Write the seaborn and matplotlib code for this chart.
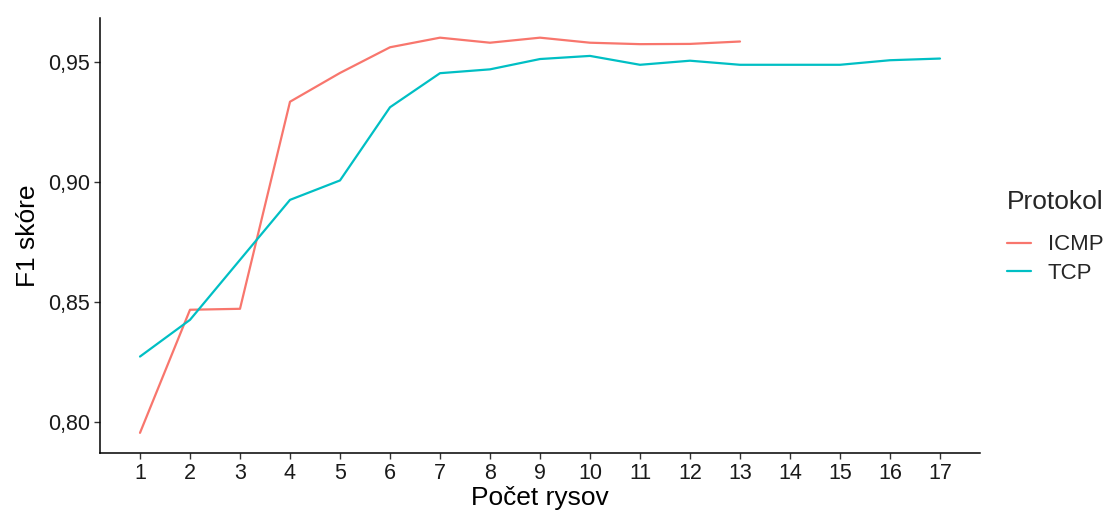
import matplotlib
matplotlib.use("Agg")
import matplotlib.pyplot as plt
from matplotlib.ticker import FuncFormatter, FixedLocator
import seaborn as sns
import pandas as pd

icmp_x = list(range(1, 14))
icmp_f1 = [0.7954, 0.8467, 0.8471, 0.9334, 0.9454, 0.9561, 0.9601, 0.9580,
           0.9601, 0.9580, 0.9574, 0.9575, 0.9585]
tcp_x = list(range(1, 18))
tcp_f1 = [0.8272, 0.8425, 0.8675, 0.8925, 0.9006, 0.9311, 0.9453, 0.9469,
          0.9512, 0.9525, 0.9488, 0.9505, 0.9488, 0.9488, 0.9488, 0.9507, 0.9514]
y_ticks = [0.80, 0.85, 0.90, 0.95]
protocols = ["ICMP", "TCP"]
colors = ["#F8766D", "#00BFC4"]

df = pd.DataFrame({
    "Počet rysov": icmp_x + tcp_x,
    "F1 skóre": icmp_f1 + tcp_f1,
    "Protokol": ["ICMP"] * len(icmp_x) + ["TCP"] * len(tcp_x),
})

sns.set_style("ticks")
plt.rcParams["font.family"] = ["Liberation Sans", "DejaVu Sans"]

fig = plt.figure(figsize=(11.05, 5.16), dpi=100)
ax = fig.add_axes([100 / 1105, 63 / 516, 880 / 1105, 435 / 516])
sns.lineplot(data=df, x="Počet rysov", y="F1 skóre", hue="Protokol",
             hue_order=protocols, palette=colors, linewidth=1.6, ax=ax)

ax.set_xlim(0.2, 17.8)
ax.set_ylim(0.787, 0.9683)
ax.xaxis.set_major_locator(FixedLocator(tcp_x))
ax.yaxis.set_major_locator(FixedLocator(y_ticks))
ax.yaxis.set_major_formatter(FuncFormatter(lambda v, p: f"{v:.2f}".replace(".", ",")))
ax.tick_params(axis="both", labelsize=15.5, colors="#333333", length=4, width=1, pad=3)
ax.tick_params(axis="both", labelcolor="#1a1a1a")
ax.set_xlabel("Počet rysov", fontsize=19, color="black", labelpad=2)
ax.set_ylabel("F1 skóre", fontsize=19, color="black", labelpad=6)
sns.despine(ax=ax)
for s in ["left", "bottom"]:
    ax.spines[s].set_linewidth(1.1)
    ax.spines[s].set_color("black")

leg = ax.legend(title="Protokol", loc="center left", bbox_to_anchor=(1.008, 0.497),
                frameon=False, fontsize=16, title_fontsize=19,
                handlelength=1.1, handletextpad=0.73, labelspacing=0.34)
leg._legend_box.align = "left"
leg._legend_box.sep = 15

fig.savefig("out.png", dpi=100)
